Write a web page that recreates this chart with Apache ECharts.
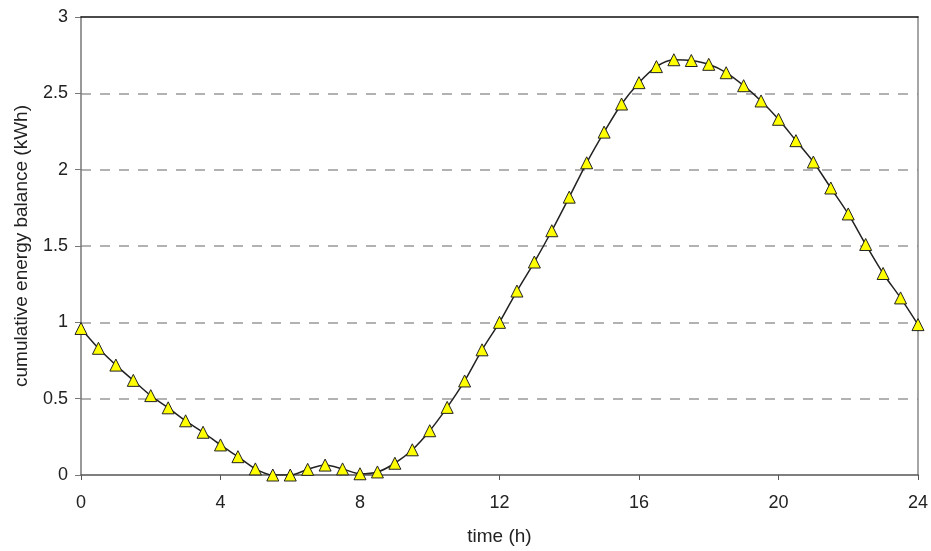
<!DOCTYPE html>
<html>
<head>
<meta charset="utf-8">
<script src="https://cdn.jsdelivr.net/npm/echarts@6/dist/echarts.min.js"></script>
<style>
  html, body { margin: 0; padding: 0; background: #fff; }
  #main { width: 931px; height: 551px; }
</style>
</head>
<body>
<div id="main"></div>
<script>
// hours, every half hour
const hours = [0, 0.5, 1, 1.5, 2, 2.5, 3, 3.5, 4, 4.5, 5, 5.5, 6, 6.5, 7, 7.5, 8, 8.5, 9, 9.5,
  10, 10.5, 11, 11.5, 12, 12.5, 13, 13.5, 14, 14.5, 15, 15.5, 16, 16.5, 17, 17.5, 18, 18.5,
  19, 19.5, 20, 20.5, 21, 21.5, 22, 22.5, 23, 23.5, 24];
// cumulative energy balance (kWh)
const balance = [0.96, 0.83, 0.72, 0.62, 0.52, 0.44, 0.355, 0.28, 0.197, 0.12, 0.04, 0.0, 0.0,
  0.037, 0.065, 0.04, 0.008, 0.02, 0.077, 0.165, 0.29, 0.443, 0.616, 0.82, 1.0, 1.205, 1.395,
  1.6, 1.82, 2.045, 2.246, 2.43, 2.57, 2.675, 2.72, 2.715, 2.69, 2.635, 2.55, 2.45, 2.33,
  2.19, 2.05, 1.88, 1.71, 1.51, 1.32, 1.16, 0.985];
const xTicks = [0, 4, 8, 12, 16, 20, 24];
const yTicks = [0, 0.5, 1, 1.5, 2, 2.5, 3];

const chart = echarts.init(document.getElementById('main'));
const font = 'Liberation Sans, Arial, sans-serif';

chart.setOption({
  animation: false,
  backgroundColor: '#fff',
  grid: { left: 81, right: 13, top: 17, bottom: 76 },
  xAxis: [{
    type: 'value',
    min: 0, max: 24, interval: 4,
    name: 'time (h)',
    nameLocation: 'middle',
    nameGap: 52,
    nameTextStyle: { color: '#222', fontSize: 19, fontFamily: font },
    axisLine: { onZero: false, lineStyle: { color: '#555', width: 1.5 } },
    axisTick: { show: true, length: 5, lineStyle: { color: '#555' } },
    axisLabel: {
      color: '#222', fontSize: 18, fontFamily: font, margin: 19,
      formatter: v => xTicks.includes(v) ? String(v) : ''
    },
    splitLine: { show: false }
  }, {
    // top border of the plot
    type: 'value',
    position: 'top',
    min: 0, max: 24,
    axisLine: { show: true, onZero: false, lineStyle: { color: '#111', width: 1.5 } },
    axisTick: { show: false },
    axisLabel: { show: false },
    splitLine: { show: false },
    z: 10
  }],
  yAxis: [{
    type: 'value',
    min: 0, max: 3, interval: 0.5,
    name: 'cumulative energy balance (kWh)',
    nameLocation: 'middle',
    nameGap: 50,
    nameTextStyle: { color: '#222', fontSize: 19, fontFamily: font },
    axisLine: { show: true, onZero: false, lineStyle: { color: '#777', width: 1.5 } },
    axisTick: { show: true, length: 6, lineStyle: { color: '#777' } },
    axisLabel: {
      color: '#222', fontSize: 18, fontFamily: font, margin: 13,
      formatter: v => yTicks.includes(v) ? String(v) : ''
    },
    splitLine: {
      show: true,
      showMinLine: false,
      showMaxLine: false,
      lineStyle: { color: '#999', width: 1.5, type: [10, 9] }
    }
  }, {
    // right border of the plot
    type: 'value',
    position: 'right',
    min: 0, max: 3,
    axisLine: { show: true, onZero: false, lineStyle: { color: '#888', width: 1.5 } },
    axisTick: { show: false },
    axisLabel: { show: false },
    splitLine: { show: false }
  }],
  series: [{
    type: 'line',
    data: hours.map((h, i) => [h, balance[i]]),
    smooth: 0.3,
    symbol: 'triangle',
    symbolSize: 12,
    lineStyle: { color: '#222', width: 1.5 },
    itemStyle: { color: '#ffff00', borderColor: '#222', borderWidth: 1 },
    z: 5
  }]
});
</script>
</body>
</html>
